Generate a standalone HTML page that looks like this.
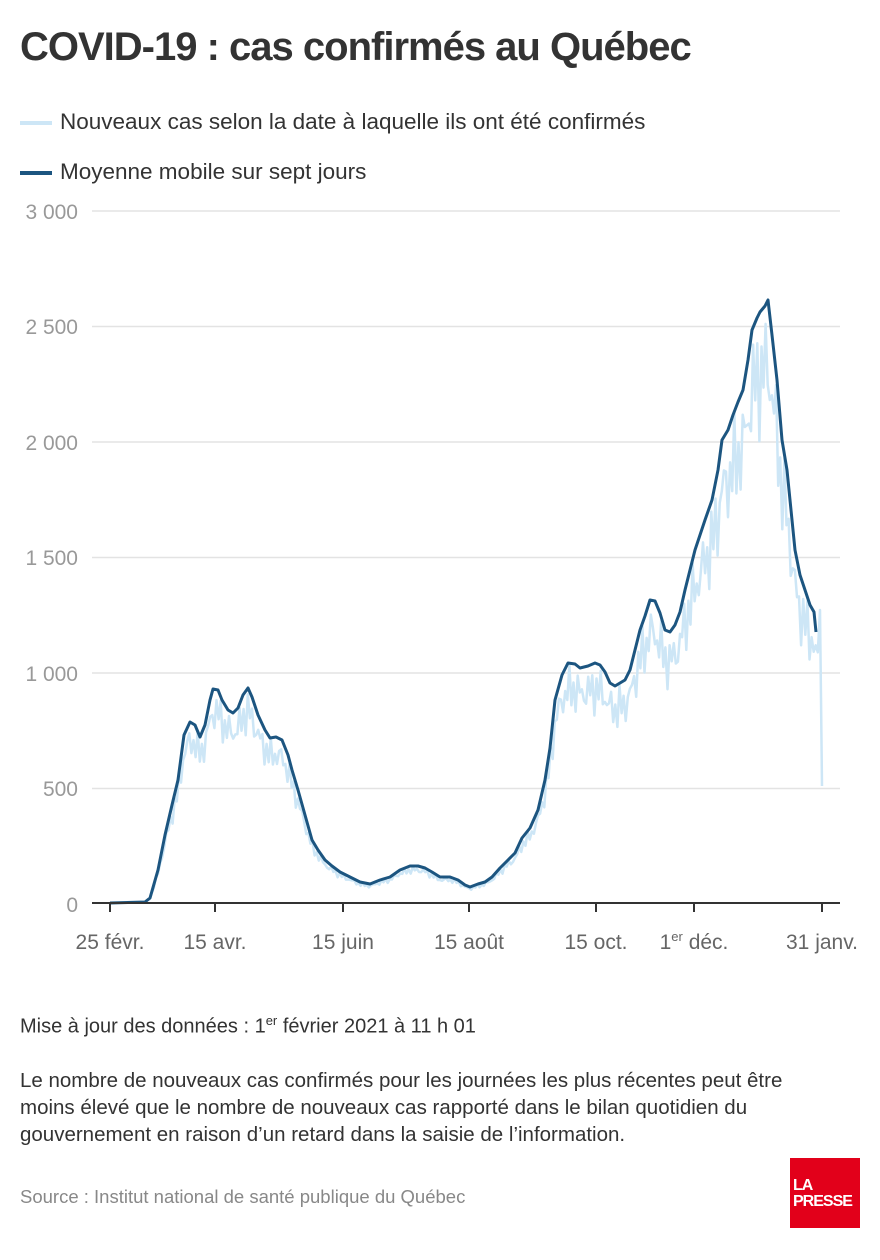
<!DOCTYPE html>
<html><head><meta charset="utf-8"><style>
body{margin:0;background:#fff;width:880px;height:1260px;overflow:hidden;font-family:"Liberation Sans",sans-serif;color:#333}
.t{position:absolute;left:20px;top:25px;font-size:40px;font-weight:bold;color:#333;letter-spacing:-1px}
.lg{position:absolute;left:20px;font-size:22.5px;color:#333}
.lg i{display:inline-block;width:32px;height:4px;vertical-align:middle;margin-right:8px}
.p{position:absolute;left:20px;font-size:20px;color:#333;line-height:27px}
</style></head><body>
<div class="t">COVID-19 : cas confirmés au Québec</div>
<div class="lg" style="top:109px"><i style="background:#cde6f6"></i>Nouveaux cas selon la date à laquelle ils ont été confirmés</div>
<div class="lg" style="top:159px"><i style="background:#1c5580"></i>Moyenne mobile sur sept jours</div>
<svg width="880" height="1000" style="position:absolute;left:0;top:0" font-family="Liberation Sans, sans-serif">
<g stroke="#e3e3e3" stroke-width="1.5">
<line x1="92" x2="840" y1="211" y2="211"/><line x1="92" x2="840" y1="326.5" y2="326.5"/><line x1="92" x2="840" y1="442" y2="442"/><line x1="92" x2="840" y1="557.5" y2="557.5"/><line x1="92" x2="840" y1="673" y2="673"/><line x1="92" x2="840" y1="788.5" y2="788.5"/>
</g>
<g fill="#999" font-size="21" text-anchor="end">
<text x="78" y="219">3 000</text><text x="78" y="334">2 500</text><text x="78" y="450">2 000</text><text x="78" y="565">1 500</text><text x="78" y="681">1 000</text><text x="78" y="796">500</text><text x="78" y="912">0</text>
</g>
<polyline id="raw" fill="none" stroke="#cde6f6" stroke-width="2.5" stroke-linejoin="round"/>
<polyline id="avg" fill="none" stroke="#1c5580" stroke-width="3" stroke-linejoin="round"/>
<line x1="92" x2="840" y1="903" y2="903" stroke="#333" stroke-width="2"/>
<g stroke="#333" stroke-width="2">
<line x1="110" x2="110" y1="903" y2="912"/><line x1="215" x2="215" y1="903" y2="912"/><line x1="343" x2="343" y1="903" y2="912"/><line x1="469" x2="469" y1="903" y2="912"/><line x1="596" x2="596" y1="903" y2="912"/><line x1="694" x2="694" y1="903" y2="912"/><line x1="822" x2="822" y1="903" y2="912"/>
</g>
<g fill="#666" font-size="21" text-anchor="middle">
<text x="110" y="949">25 févr.</text><text x="215" y="949">15 avr.</text><text x="343" y="949">15 juin</text><text x="469" y="949">15 août</text><text x="596" y="949">15 oct.</text><text x="694" y="949">1<tspan font-size="13" dy="-8">er</tspan><tspan dy="8"> déc.</tspan></text><text x="822" y="949">31 janv.</text>
</g>
</svg>
<div class="p" style="top:1007px">Mise à jour des données : 1<sup style="font-size:13px">er</sup> février 2021 à 11 h 01</div>
<div class="p" style="top:1067px;font-size:20.5px">Le nombre de nouveaux cas confirmés pour les journées les plus récentes peut être<br>moins élevé que le nombre de nouveaux cas rapporté dans le bilan quotidien du<br>gouvernement en raison d’un retard dans la saisie de l’information.</div>
<div class="p" style="top:1183px;color:#888;font-size:18.5px">Source : Institut national de santé publique du Québec</div>
<div style="position:absolute;left:790px;top:1158px;width:70px;height:70px;background:#e2001a;color:#fff;font-weight:bold;font-size:16px;line-height:16px;padding:20px 0 0 3px;box-sizing:border-box;letter-spacing:-1px">LA<br>PRESSE</div>
<script>
var a=[[110,903],[145,902],[150,898],[158,870],[165,835],[172,805],[178,780],[184,735],[190,722],[195,725],[200,737],[205,725],[210,700],[213,689],[218,690],[222,700],[228,710],[233,713],[238,708],[243,695],[248,688],[252,697],[258,715],[265,730],[270,738],[276,737],[282,740],[288,755],[292,770],[298,790],[305,815],[312,840],[318,850],[325,860],[332,866],[340,872],[350,877],[360,882],[370,884],[380,880],[390,877],[400,870],[410,866],[418,866],[425,868],[432,872],[440,877],[450,877],[458,880],[465,885],[470,887],[478,884],[485,882],[492,877],[500,868],[508,860],[515,853],[522,838],[530,828],[538,810],[545,780],[550,748],[555,700],[562,675],[568,663],[575,664],[580,668],[588,666],[595,663],[600,665],[605,672],[610,683],[615,686],[620,683],[625,680],[630,670],[635,650],[640,630],[645,616],[650,600],[655,601],[660,613],[665,630],[670,632],[675,625],[680,612],[685,590],[690,570],[695,550],[700,535],[705,520],[712,500],[718,470],[722,440],[728,430],[733,415],[738,402],[743,390],[748,360],[752,330],[757,318],[760,312],[765,306],[768,300],[772,335],[777,380],[782,440],[787,470],[791,510],[795,550],[800,575],[805,590],[810,605],[814,612],[816,632]];
document.getElementById('avg').setAttribute('points',a.map(p=>p.join(',')).join(' '));
function f(x){for(var i=1;i<a.length;i++){if(a[i][0]>=x){var p=a[i-1],q=a[i];return p[1]+(q[1]-p[1])*(x-p[0])/(q[0]-p[0]);}}return a[a.length-1][1];}
var r=[];for(var x=110;x<=818;x+=2.088){var y=f(x);var h=903-y;var n=Math.sin(x*3.01)*0.11+Math.sin(x*1.37+1)*0.07+Math.sin(x*0.61)*0.04;r.push([x.toFixed(1),(y-h*n).toFixed(1)]);}
r.push([820,610]);r.push([822,786]);
document.getElementById('raw').setAttribute('points',r.map(p=>p.join(',')).join(' '));
</script>
</body></html>
